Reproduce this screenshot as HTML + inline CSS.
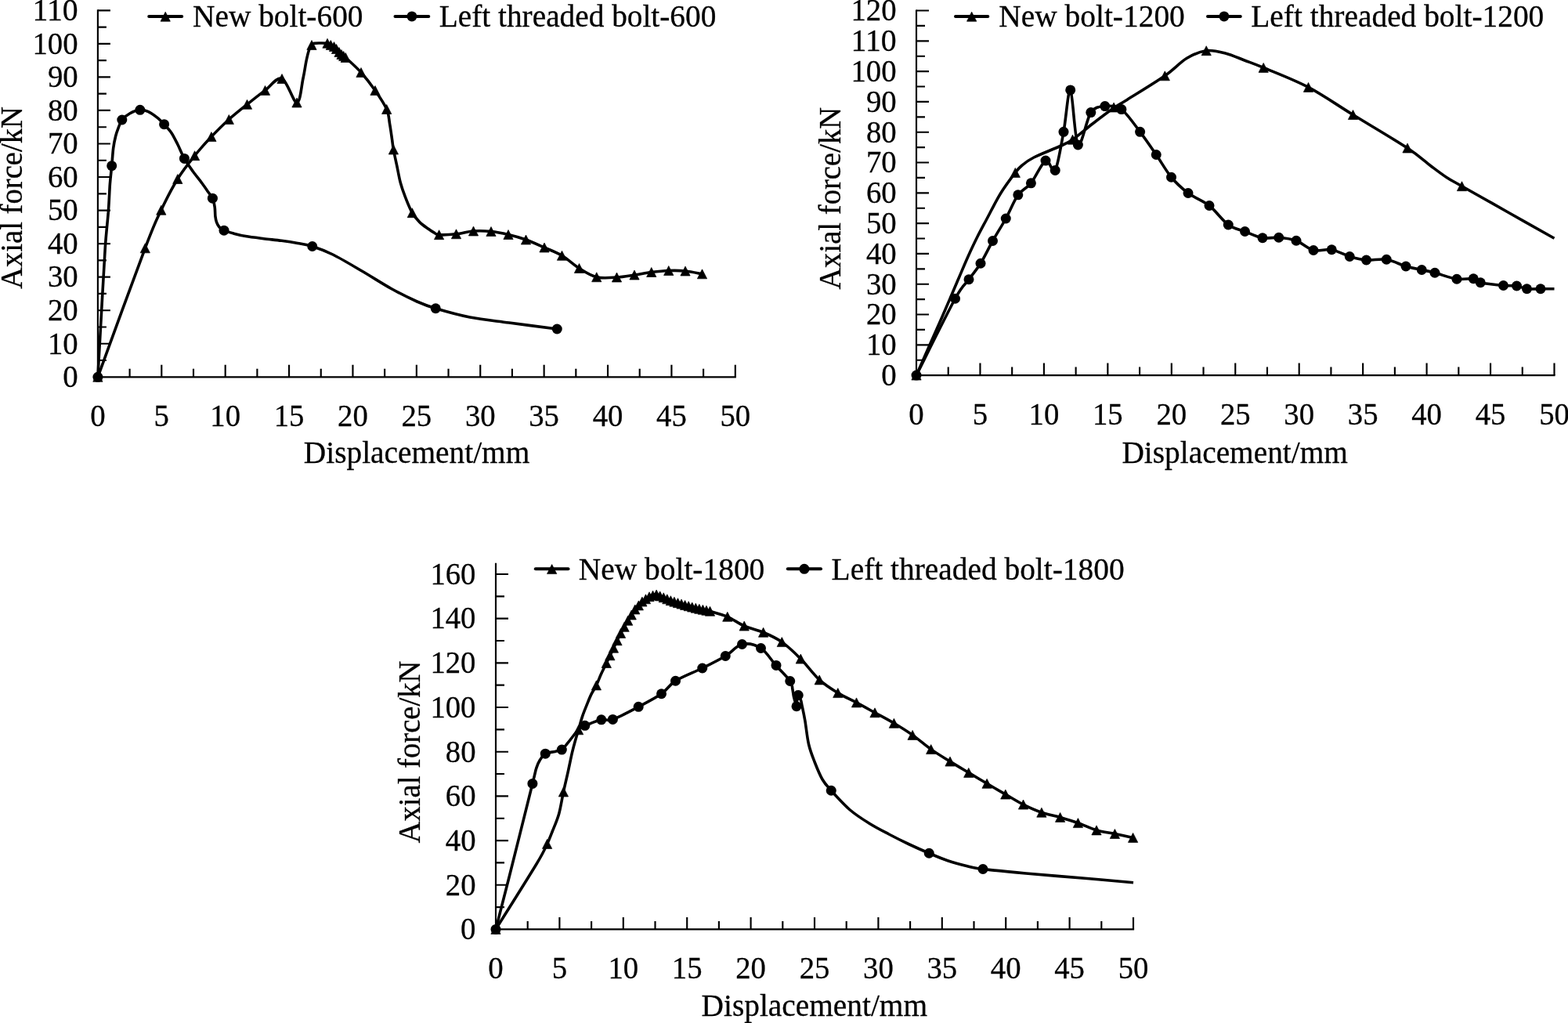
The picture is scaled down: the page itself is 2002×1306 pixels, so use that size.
<!DOCTYPE html><html><head><meta charset="utf-8"><title>Axial force - displacement curves</title>
<style>html,body{margin:0;padding:0;background:#fff}svg{display:block}text{font-family:'Liberation Serif', serif;fill:#000;stroke:#000;stroke-width:0.3px}</style></head><body>
<svg width="2002" height="1306" viewBox="0 0 2002 1306">
<rect width="2002" height="1306" fill="#fff"/>
<path d="M124.90 12.23 V482.38" stroke="#000" stroke-width="2.15" fill="none"/>
<path d="M123.83 481.30 H939.88" stroke="#000" stroke-width="2.15" fill="none"/>
<path d="M124.90 460.03 H135.90 M124.90 438.75 H140.90 M124.90 417.48 H135.90 M124.90 396.21 H140.90 M124.90 374.94 H135.90 M124.90 353.66 H140.90 M124.90 332.39 H135.90 M124.90 311.12 H140.90 M124.90 289.85 H135.90 M124.90 268.57 H140.90 M124.90 247.30 H135.90 M124.90 226.03 H140.90 M124.90 204.75 H135.90 M124.90 183.48 H140.90 M124.90 162.21 H135.90 M124.90 140.94 H140.90 M124.90 119.66 H135.90 M124.90 98.39 H140.90 M124.90 77.12 H135.90 M124.90 55.85 H140.90 M124.90 34.57 H135.90 M124.90 13.30 H140.90 M165.59 481.30 V470.80 M206.29 481.30 V465.80 M246.99 481.30 V470.80 M287.68 481.30 V465.80 M328.38 481.30 V470.80 M369.07 481.30 V465.80 M409.76 481.30 V470.80 M450.46 481.30 V465.80 M491.15 481.30 V470.80 M531.85 481.30 V465.80 M572.54 481.30 V470.80 M613.24 481.30 V465.80 M653.93 481.30 V470.80 M694.63 481.30 V465.80 M735.32 481.30 V470.80 M776.02 481.30 V465.80 M816.71 481.30 V470.80 M857.41 481.30 V465.80 M898.10 481.30 V470.80 M938.80 481.30 V465.80 " stroke="#000" stroke-width="2.15" fill="none"/>
<text x="99.60" y="494.10" text-anchor="end" font-size="41" textLength="19.4" lengthAdjust="spacingAndGlyphs">0</text>
<text x="99.60" y="451.55" text-anchor="end" font-size="41" textLength="38.7" lengthAdjust="spacingAndGlyphs">10</text>
<text x="99.60" y="409.01" text-anchor="end" font-size="41" textLength="38.7" lengthAdjust="spacingAndGlyphs">20</text>
<text x="99.60" y="366.46" text-anchor="end" font-size="41" textLength="38.7" lengthAdjust="spacingAndGlyphs">30</text>
<text x="99.60" y="323.92" text-anchor="end" font-size="41" textLength="38.7" lengthAdjust="spacingAndGlyphs">40</text>
<text x="99.60" y="281.37" text-anchor="end" font-size="41" textLength="38.7" lengthAdjust="spacingAndGlyphs">50</text>
<text x="99.60" y="238.83" text-anchor="end" font-size="41" textLength="38.7" lengthAdjust="spacingAndGlyphs">60</text>
<text x="99.60" y="196.28" text-anchor="end" font-size="41" textLength="38.7" lengthAdjust="spacingAndGlyphs">70</text>
<text x="99.60" y="153.74" text-anchor="end" font-size="41" textLength="38.7" lengthAdjust="spacingAndGlyphs">80</text>
<text x="99.60" y="111.19" text-anchor="end" font-size="41" textLength="38.7" lengthAdjust="spacingAndGlyphs">90</text>
<text x="99.60" y="68.65" text-anchor="end" font-size="41" textLength="58.1" lengthAdjust="spacingAndGlyphs">100</text>
<text x="99.60" y="26.10" text-anchor="end" font-size="41" textLength="58.1" lengthAdjust="spacingAndGlyphs">110</text>
<text x="124.90" y="544.30" text-anchor="middle" font-size="41" textLength="19.4" lengthAdjust="spacingAndGlyphs">0</text>
<text x="206.29" y="544.30" text-anchor="middle" font-size="41" textLength="19.4" lengthAdjust="spacingAndGlyphs">5</text>
<text x="287.68" y="544.30" text-anchor="middle" font-size="41" textLength="38.7" lengthAdjust="spacingAndGlyphs">10</text>
<text x="369.07" y="544.30" text-anchor="middle" font-size="41" textLength="38.7" lengthAdjust="spacingAndGlyphs">15</text>
<text x="450.46" y="544.30" text-anchor="middle" font-size="41" textLength="38.7" lengthAdjust="spacingAndGlyphs">20</text>
<text x="531.85" y="544.30" text-anchor="middle" font-size="41" textLength="38.7" lengthAdjust="spacingAndGlyphs">25</text>
<text x="613.24" y="544.30" text-anchor="middle" font-size="41" textLength="38.7" lengthAdjust="spacingAndGlyphs">30</text>
<text x="694.63" y="544.30" text-anchor="middle" font-size="41" textLength="38.7" lengthAdjust="spacingAndGlyphs">35</text>
<text x="776.02" y="544.30" text-anchor="middle" font-size="41" textLength="38.7" lengthAdjust="spacingAndGlyphs">40</text>
<text x="857.41" y="544.30" text-anchor="middle" font-size="41" textLength="38.7" lengthAdjust="spacingAndGlyphs">45</text>
<text x="938.80" y="544.30" text-anchor="middle" font-size="41" textLength="38.7" lengthAdjust="spacingAndGlyphs">50</text>
<text x="28.00" y="252.50" text-anchor="middle" font-size="40" textLength="233.0" lengthAdjust="spacingAndGlyphs" transform="rotate(-90 28.00 252.50)">Axial force/kN</text>
<text x="532.10" y="591.30" text-anchor="middle" font-size="40" textLength="288.5" lengthAdjust="spacingAndGlyphs">Displacement/mm</text>
<path d="M190.20 20.90 H232.20" stroke="#000" stroke-width="4.00" stroke-linecap="round" fill="none"/>
<path d="M211.20 15.20 L217.35 27.20 L205.05 27.20 Z" fill="#000" stroke="#000" stroke-width="0.7" stroke-linejoin="round"/>
<text x="246.00" y="33.90" text-anchor="start" font-size="40" textLength="217.5" lengthAdjust="spacingAndGlyphs">New bolt-600</text>
<path d="M504.50 20.90 H547.30" stroke="#000" stroke-width="4.00" stroke-linecap="round" fill="none"/>
<circle cx="525.90" cy="20.90" r="6.50" fill="#000"/>
<text x="560.80" y="33.90" text-anchor="start" font-size="40" textLength="353.5" lengthAdjust="spacingAndGlyphs">Left threaded bolt-600</text>
<path d="M124.90 481.30 C134.97 453.88 171.82 352.32 185.30 316.80 C198.78 281.28 198.88 282.92 205.80 268.20 C212.72 253.48 219.67 240.08 226.80 228.50 C233.93 216.92 241.42 207.68 248.60 198.70 C255.78 189.72 262.62 182.30 269.90 174.60 C277.18 166.90 284.70 159.38 292.30 152.50 C299.90 145.62 307.80 139.48 315.50 133.30 C323.20 127.12 331.08 120.87 338.50 115.40 C345.92 109.93 353.25 97.90 360.00 100.50 C366.75 103.10 374.50 131.08 379.00 131.00 C383.50 130.92 385.00 108.83 387.00 100.00 C389.00 91.17 389.75 84.00 391.00 78.00 C392.25 72.00 393.33 67.42 394.50 64.00 C395.67 60.58 397.00 58.93 398.00 57.50 C399.00 56.07 398.83 55.82 400.50 55.40 C402.17 54.98 405.08 55.02 408.00 55.00 C410.92 54.98 415.62 54.88 418.00 55.30 C420.38 55.72 420.88 56.80 422.30 57.50 C423.72 58.20 425.30 58.67 426.50 59.50 C427.70 60.33 428.42 61.33 429.50 62.50 C430.58 63.67 431.92 65.33 433.00 66.50 C434.08 67.67 435.05 68.67 436.00 69.50 C436.95 70.33 437.82 70.83 438.70 71.50 C439.58 72.17 437.58 70.00 441.30 73.50 C445.02 77.00 454.72 85.50 461.00 92.50 C467.28 99.50 473.55 107.67 479.00 115.50 C484.45 123.33 490.60 132.37 493.70 139.50 C496.80 146.63 496.45 151.85 497.60 158.30 C498.75 164.75 499.80 172.75 500.60 178.20 C501.40 183.65 501.37 185.38 502.40 191.00 C503.43 196.62 505.32 204.85 506.80 211.90 C508.28 218.95 509.52 226.67 511.30 233.30 C513.08 239.93 515.00 245.30 517.50 251.70 C520.00 258.10 523.25 266.38 526.30 271.70 C529.35 277.02 532.35 280.17 535.80 283.60 C539.25 287.03 543.97 290.08 547.00 292.30 C550.03 294.52 551.73 295.67 554.00 296.90 C556.27 298.13 555.85 299.39 560.60 299.70 C565.35 300.01 575.18 299.53 582.50 298.75 C589.82 297.97 597.08 295.54 604.50 295.00 C611.92 294.46 619.58 294.75 627.00 295.50 C634.42 296.25 641.58 297.75 649.00 299.50 C656.42 301.25 663.83 303.25 671.50 306.00 C679.17 308.75 687.33 312.62 695.00 316.00 C702.67 319.38 710.08 321.88 717.50 326.30 C724.92 330.72 732.12 337.93 739.50 342.50 C746.88 347.07 753.75 351.83 761.75 353.75 C769.75 355.67 779.46 354.46 787.50 354.00 C795.54 353.54 802.62 352.08 810.00 351.00 C817.38 349.92 824.46 348.42 831.75 347.50 C839.04 346.58 846.54 345.75 853.75 345.50 C860.96 345.25 867.88 345.28 875.00 346.00 C882.12 346.72 892.92 349.17 896.50 349.80" fill="none" stroke="#000" stroke-width="3.60" stroke-linejoin="round" stroke-linecap="butt"/>
<path d="M124.90 481.30 C125.70 467.08 128.13 423.55 129.70 396.00 C131.27 368.45 132.85 337.12 134.30 316.00 C135.75 294.88 137.38 282.82 138.40 269.30 C139.42 255.78 139.68 244.50 140.40 234.90 C141.12 225.30 141.98 219.37 142.70 211.70 C143.42 204.03 143.88 195.18 144.70 188.90 C145.52 182.62 146.55 178.22 147.60 174.00 C148.65 169.78 149.63 167.10 151.00 163.60 C152.37 160.10 153.32 156.15 155.80 153.00 C158.28 149.85 162.07 146.82 165.90 144.70 C169.73 142.58 174.97 140.68 178.80 140.30 C182.63 139.92 185.30 140.80 188.90 142.40 C192.50 144.00 196.95 147.18 200.40 149.90 C203.85 152.62 206.53 155.45 209.60 158.70 C212.67 161.95 215.93 165.13 218.80 169.40 C221.67 173.67 224.03 178.80 226.80 184.30 C229.57 189.80 232.15 196.65 235.40 202.40 C238.65 208.15 242.57 213.58 246.30 218.80 C250.03 224.02 254.53 229.30 257.80 233.70 C261.07 238.10 263.63 241.95 265.90 245.20 C268.17 248.45 270.02 249.98 271.40 253.20 C272.78 256.42 273.62 260.70 274.20 264.50 C274.78 268.30 274.52 272.82 274.90 276.00 C275.28 279.18 275.67 281.32 276.50 283.60 C277.33 285.88 278.32 287.93 279.90 289.70 C281.48 291.47 282.93 292.80 286.00 294.20 C289.07 295.60 293.70 296.87 298.30 298.10 C302.90 299.33 307.22 300.50 313.60 301.60 C319.98 302.70 328.95 303.75 336.60 304.70 C344.25 305.65 352.27 306.33 359.50 307.30 C366.73 308.27 373.46 309.30 380.00 310.50 C386.54 311.70 391.25 312.08 398.75 314.50 C406.25 316.92 414.38 319.71 425.00 325.00 C435.62 330.29 450.00 338.96 462.50 346.25 C475.00 353.54 488.33 362.29 500.00 368.75 C511.67 375.21 523.12 380.83 532.50 385.00 C541.88 389.17 545.00 390.42 556.25 393.75 C567.50 397.08 584.38 401.96 600.00 405.00 C615.62 408.04 631.46 409.50 650.00 412.00 C668.54 414.50 701.04 418.67 711.25 420.00" fill="none" stroke="#000" stroke-width="3.60" stroke-linejoin="round" stroke-linecap="butt"/>
<path d="M124.90 475.30 L131.05 487.30 L118.75 487.30 Z M185.30 310.80 L191.45 322.80 L179.15 322.80 Z M205.80 262.20 L211.95 274.20 L199.65 274.20 Z M226.80 222.50 L232.95 234.50 L220.65 234.50 Z M248.60 192.70 L254.75 204.70 L242.45 204.70 Z M269.90 168.60 L276.05 180.60 L263.75 180.60 Z M292.30 146.50 L298.45 158.50 L286.15 158.50 Z M315.50 127.30 L321.65 139.30 L309.35 139.30 Z M338.50 109.40 L344.65 121.40 L332.35 121.40 Z M360.00 94.50 L366.15 106.50 L353.85 106.50 Z M379.00 125.00 L385.15 137.00 L372.85 137.00 Z M398.00 51.50 L404.15 63.50 L391.85 63.50 Z M418.00 49.30 L424.15 61.30 L411.85 61.30 Z M422.30 51.50 L428.45 63.50 L416.15 63.50 Z M426.50 53.50 L432.65 65.50 L420.35 65.50 Z M429.50 56.50 L435.65 68.50 L423.35 68.50 Z M433.00 60.50 L439.15 72.50 L426.85 72.50 Z M436.00 63.50 L442.15 75.50 L429.85 75.50 Z M438.70 65.50 L444.85 77.50 L432.55 77.50 Z M441.30 67.50 L447.45 79.50 L435.15 79.50 Z M461.00 86.50 L467.15 98.50 L454.85 98.50 Z M479.00 109.50 L485.15 121.50 L472.85 121.50 Z M493.70 133.50 L499.85 145.50 L487.55 145.50 Z M502.40 185.00 L508.55 197.00 L496.25 197.00 Z M526.30 265.70 L532.45 277.70 L520.15 277.70 Z M560.60 293.70 L566.75 305.70 L554.45 305.70 Z M582.50 292.75 L588.65 304.75 L576.35 304.75 Z M604.50 289.00 L610.65 301.00 L598.35 301.00 Z M627.00 289.50 L633.15 301.50 L620.85 301.50 Z M649.00 293.50 L655.15 305.50 L642.85 305.50 Z M671.50 300.00 L677.65 312.00 L665.35 312.00 Z M695.00 310.00 L701.15 322.00 L688.85 322.00 Z M717.50 320.30 L723.65 332.30 L711.35 332.30 Z M739.50 336.50 L745.65 348.50 L733.35 348.50 Z M761.75 347.75 L767.90 359.75 L755.60 359.75 Z M787.50 348.00 L793.65 360.00 L781.35 360.00 Z M810.00 345.00 L816.15 357.00 L803.85 357.00 Z M831.75 341.50 L837.90 353.50 L825.60 353.50 Z M853.75 339.50 L859.90 351.50 L847.60 351.50 Z M875.00 340.00 L881.15 352.00 L868.85 352.00 Z M896.50 343.80 L902.65 355.80 L890.35 355.80 Z" fill="#000" stroke="#000" stroke-width="0.7" stroke-linejoin="round"/>
<circle cx="124.90" cy="481.30" r="6.50" fill="#000"/>
<circle cx="142.70" cy="211.70" r="6.50" fill="#000"/>
<circle cx="155.80" cy="153.00" r="6.50" fill="#000"/>
<circle cx="178.80" cy="140.30" r="6.50" fill="#000"/>
<circle cx="209.60" cy="158.70" r="6.50" fill="#000"/>
<circle cx="235.40" cy="202.40" r="6.50" fill="#000"/>
<circle cx="271.40" cy="253.20" r="6.50" fill="#000"/>
<circle cx="286.00" cy="294.20" r="6.50" fill="#000"/>
<circle cx="398.75" cy="314.50" r="6.50" fill="#000"/>
<circle cx="556.25" cy="393.75" r="6.50" fill="#000"/>
<circle cx="711.25" cy="420.00" r="6.50" fill="#000"/>
<path d="M1170.00 12.43 V480.18" stroke="#000" stroke-width="2.15" fill="none"/>
<path d="M1168.92 479.10 H1985.58" stroke="#000" stroke-width="2.15" fill="none"/>
<path d="M1170.00 459.70 H1181.00 M1170.00 440.30 H1186.00 M1170.00 420.90 H1181.00 M1170.00 401.50 H1186.00 M1170.00 382.10 H1181.00 M1170.00 362.70 H1186.00 M1170.00 343.30 H1181.00 M1170.00 323.90 H1186.00 M1170.00 304.50 H1181.00 M1170.00 285.10 H1186.00 M1170.00 265.70 H1181.00 M1170.00 246.30 H1186.00 M1170.00 226.90 H1181.00 M1170.00 207.50 H1186.00 M1170.00 188.10 H1181.00 M1170.00 168.70 H1186.00 M1170.00 149.30 H1181.00 M1170.00 129.90 H1186.00 M1170.00 110.50 H1181.00 M1170.00 91.10 H1186.00 M1170.00 71.70 H1181.00 M1170.00 52.30 H1186.00 M1170.00 32.90 H1181.00 M1170.00 13.50 H1186.00 M1210.72 479.10 V468.60 M1251.45 479.10 V463.60 M1292.17 479.10 V468.60 M1332.90 479.10 V463.60 M1373.62 479.10 V468.60 M1414.35 479.10 V463.60 M1455.08 479.10 V468.60 M1495.80 479.10 V463.60 M1536.53 479.10 V468.60 M1577.25 479.10 V463.60 M1617.97 479.10 V468.60 M1658.70 479.10 V463.60 M1699.42 479.10 V468.60 M1740.15 479.10 V463.60 M1780.88 479.10 V468.60 M1821.60 479.10 V463.60 M1862.32 479.10 V468.60 M1903.05 479.10 V463.60 M1943.78 479.10 V468.60 M1984.50 479.10 V463.60 " stroke="#000" stroke-width="2.15" fill="none"/>
<text x="1144.60" y="491.90" text-anchor="end" font-size="41" textLength="19.4" lengthAdjust="spacingAndGlyphs">0</text>
<text x="1144.60" y="453.10" text-anchor="end" font-size="41" textLength="38.7" lengthAdjust="spacingAndGlyphs">10</text>
<text x="1144.60" y="414.30" text-anchor="end" font-size="41" textLength="38.7" lengthAdjust="spacingAndGlyphs">20</text>
<text x="1144.60" y="375.50" text-anchor="end" font-size="41" textLength="38.7" lengthAdjust="spacingAndGlyphs">30</text>
<text x="1144.60" y="336.70" text-anchor="end" font-size="41" textLength="38.7" lengthAdjust="spacingAndGlyphs">40</text>
<text x="1144.60" y="297.90" text-anchor="end" font-size="41" textLength="38.7" lengthAdjust="spacingAndGlyphs">50</text>
<text x="1144.60" y="259.10" text-anchor="end" font-size="41" textLength="38.7" lengthAdjust="spacingAndGlyphs">60</text>
<text x="1144.60" y="220.30" text-anchor="end" font-size="41" textLength="38.7" lengthAdjust="spacingAndGlyphs">70</text>
<text x="1144.60" y="181.50" text-anchor="end" font-size="41" textLength="38.7" lengthAdjust="spacingAndGlyphs">80</text>
<text x="1144.60" y="142.70" text-anchor="end" font-size="41" textLength="38.7" lengthAdjust="spacingAndGlyphs">90</text>
<text x="1144.60" y="103.90" text-anchor="end" font-size="41" textLength="58.1" lengthAdjust="spacingAndGlyphs">100</text>
<text x="1144.60" y="65.10" text-anchor="end" font-size="41" textLength="58.1" lengthAdjust="spacingAndGlyphs">110</text>
<text x="1144.60" y="26.30" text-anchor="end" font-size="41" textLength="58.1" lengthAdjust="spacingAndGlyphs">120</text>
<text x="1170.00" y="542.30" text-anchor="middle" font-size="41" textLength="19.4" lengthAdjust="spacingAndGlyphs">0</text>
<text x="1251.45" y="542.30" text-anchor="middle" font-size="41" textLength="19.4" lengthAdjust="spacingAndGlyphs">5</text>
<text x="1332.90" y="542.30" text-anchor="middle" font-size="41" textLength="38.7" lengthAdjust="spacingAndGlyphs">10</text>
<text x="1414.35" y="542.30" text-anchor="middle" font-size="41" textLength="38.7" lengthAdjust="spacingAndGlyphs">15</text>
<text x="1495.80" y="542.30" text-anchor="middle" font-size="41" textLength="38.7" lengthAdjust="spacingAndGlyphs">20</text>
<text x="1577.25" y="542.30" text-anchor="middle" font-size="41" textLength="38.7" lengthAdjust="spacingAndGlyphs">25</text>
<text x="1658.70" y="542.30" text-anchor="middle" font-size="41" textLength="38.7" lengthAdjust="spacingAndGlyphs">30</text>
<text x="1740.15" y="542.30" text-anchor="middle" font-size="41" textLength="38.7" lengthAdjust="spacingAndGlyphs">35</text>
<text x="1821.60" y="542.30" text-anchor="middle" font-size="41" textLength="38.7" lengthAdjust="spacingAndGlyphs">40</text>
<text x="1903.05" y="542.30" text-anchor="middle" font-size="41" textLength="38.7" lengthAdjust="spacingAndGlyphs">45</text>
<text x="1984.50" y="542.30" text-anchor="middle" font-size="41" textLength="38.7" lengthAdjust="spacingAndGlyphs">50</text>
<text x="1073.30" y="253.30" text-anchor="middle" font-size="40" textLength="233.0" lengthAdjust="spacingAndGlyphs" transform="rotate(-90 1073.30 253.30)">Axial force/kN</text>
<text x="1576.70" y="591.30" text-anchor="middle" font-size="40" textLength="288.5" lengthAdjust="spacingAndGlyphs">Displacement/mm</text>
<path d="M1220.00 20.90 H1261.30" stroke="#000" stroke-width="4.00" stroke-linecap="round" fill="none"/>
<path d="M1240.65 15.20 L1246.80 27.20 L1234.50 27.20 Z" fill="#000" stroke="#000" stroke-width="0.7" stroke-linejoin="round"/>
<text x="1275.30" y="33.90" text-anchor="start" font-size="40" textLength="237.5" lengthAdjust="spacingAndGlyphs">New bolt-1200</text>
<path d="M1542.00 20.90 H1583.80" stroke="#000" stroke-width="4.00" stroke-linecap="round" fill="none"/>
<circle cx="1562.90" cy="20.90" r="6.50" fill="#000"/>
<text x="1597.30" y="33.90" text-anchor="start" font-size="40" textLength="374.0" lengthAdjust="spacingAndGlyphs">Left threaded bolt-1200</text>
<path d="M1170.00 479.10 C1172.83 472.67 1181.78 452.30 1187.00 440.50 C1192.22 428.70 1196.88 418.38 1201.30 408.30 C1205.72 398.22 1209.58 389.13 1213.50 380.00 C1217.42 370.87 1221.05 362.25 1224.80 353.50 C1228.55 344.75 1232.25 335.83 1236.00 327.50 C1239.75 319.17 1243.35 311.42 1247.30 303.50 C1251.25 295.58 1254.67 289.42 1259.70 280.00 C1264.73 270.58 1271.40 256.93 1277.50 247.00 C1283.60 237.07 1291.72 226.40 1296.30 220.40 C1300.88 214.40 1301.05 214.23 1305.00 211.00 C1308.95 207.77 1312.08 205.00 1320.00 201.00 C1327.92 197.00 1344.25 190.80 1352.50 187.00 C1360.75 183.20 1362.42 183.03 1369.50 178.20 C1376.58 173.37 1386.23 164.73 1395.00 158.00 C1403.77 151.27 1414.72 142.93 1422.10 137.80 C1429.48 132.67 1428.43 134.03 1439.30 127.20 C1450.17 120.37 1474.68 105.58 1487.30 96.80 C1499.92 88.02 1506.18 79.85 1515.00 74.50 C1523.82 69.15 1531.95 65.78 1540.20 64.70 C1548.45 63.62 1556.28 65.92 1564.50 68.00 C1572.72 70.08 1581.38 74.13 1589.50 77.20 C1597.62 80.27 1599.70 80.70 1613.20 86.40 C1626.70 92.10 1651.45 101.38 1670.50 111.40 C1689.55 121.42 1706.42 133.57 1727.50 146.50 C1748.58 159.43 1780.42 178.08 1797.00 189.00 C1813.58 199.92 1818.67 205.75 1827.00 212.00 C1835.33 218.25 1840.42 222.22 1847.00 226.50 C1853.58 230.78 1853.50 230.33 1866.50 237.70 C1879.50 245.07 1905.33 259.60 1925.00 270.70 C1944.67 281.80 1974.58 298.70 1984.50 304.30" fill="none" stroke="#000" stroke-width="3.60" stroke-linejoin="round" stroke-linecap="butt"/>
<path d="M1170.00 479.10 C1177.62 464.05 1209.19 400.07 1219.50 381.25 C1229.81 362.43 1232.00 363.67 1237.00 356.75 C1242.00 349.83 1247.31 343.83 1252.00 336.25 C1256.69 328.67 1262.54 316.31 1267.50 307.50 C1272.46 298.69 1279.28 288.03 1284.25 279.00 C1289.22 269.97 1294.85 255.75 1299.80 248.80 C1304.75 241.85 1310.98 240.52 1316.40 233.80 C1321.82 227.08 1330.26 207.62 1335.00 205.10 C1339.74 202.58 1343.66 223.06 1347.20 217.40 C1350.74 211.74 1355.00 184.07 1358.00 168.30 C1361.00 152.53 1363.87 112.33 1366.70 114.90 C1369.53 117.47 1372.38 180.58 1376.40 185.00 C1380.42 189.42 1387.51 151.20 1392.80 143.60 C1398.09 136.00 1404.78 136.22 1410.80 135.60 C1416.82 134.98 1425.01 134.57 1431.90 139.60 C1438.79 144.63 1448.78 159.39 1455.60 168.30 C1462.42 177.21 1470.11 188.58 1476.25 197.50 C1482.39 206.42 1489.23 218.71 1495.50 226.25 C1501.77 233.79 1509.54 240.92 1517.00 246.50 C1524.46 252.08 1536.12 256.27 1544.00 262.50 C1551.88 268.73 1561.25 281.92 1568.25 287.00 C1575.25 292.08 1582.77 292.92 1589.50 295.50 C1596.23 298.08 1605.35 302.56 1612.00 303.75 C1618.65 304.94 1626.13 302.71 1632.75 303.25 C1639.37 303.79 1648.19 304.75 1655.00 307.25 C1661.81 309.75 1670.04 317.73 1677.00 319.50 C1683.96 321.27 1693.13 317.52 1700.25 318.75 C1707.37 319.98 1716.44 325.46 1723.25 327.50 C1730.06 329.54 1737.27 331.42 1744.50 332.00 C1751.73 332.58 1762.48 330.02 1770.25 331.25 C1778.02 332.48 1788.08 337.96 1795.00 340.00 C1801.92 342.04 1809.56 343.23 1815.25 344.50 C1820.94 345.77 1825.12 346.44 1832.00 348.25 C1838.88 350.06 1852.42 355.10 1860.00 356.25 C1867.58 357.40 1876.60 355.06 1881.25 355.75 C1885.90 356.44 1884.37 359.40 1890.25 360.75 C1896.13 362.10 1912.38 363.85 1919.50 364.50 C1926.62 365.15 1931.88 364.35 1936.50 365.00 C1941.12 365.65 1944.81 368.17 1949.50 368.75 C1954.19 369.33 1961.62 368.75 1967.00 368.75 C1972.38 368.75 1981.81 368.75 1984.50 368.75" fill="none" stroke="#000" stroke-width="3.60" stroke-linejoin="round" stroke-linecap="butt"/>
<path d="M1170.00 473.10 L1176.15 485.10 L1163.85 485.10 Z M1296.30 214.40 L1302.45 226.40 L1290.15 226.40 Z M1369.50 172.20 L1375.65 184.20 L1363.35 184.20 Z M1422.10 131.00 L1428.25 143.00 L1415.95 143.00 Z M1487.30 90.80 L1493.45 102.80 L1481.15 102.80 Z M1540.20 58.70 L1546.35 70.70 L1534.05 70.70 Z M1613.20 80.40 L1619.35 92.40 L1607.05 92.40 Z M1670.50 105.40 L1676.65 117.40 L1664.35 117.40 Z M1727.50 140.50 L1733.65 152.50 L1721.35 152.50 Z M1797.00 183.00 L1803.15 195.00 L1790.85 195.00 Z M1866.50 231.70 L1872.65 243.70 L1860.35 243.70 Z" fill="#000" stroke="#000" stroke-width="0.7" stroke-linejoin="round"/>
<circle cx="1170.00" cy="479.10" r="6.50" fill="#000"/>
<circle cx="1219.50" cy="381.25" r="6.50" fill="#000"/>
<circle cx="1237.00" cy="356.75" r="6.50" fill="#000"/>
<circle cx="1252.00" cy="336.25" r="6.50" fill="#000"/>
<circle cx="1267.50" cy="307.50" r="6.50" fill="#000"/>
<circle cx="1284.25" cy="279.00" r="6.50" fill="#000"/>
<circle cx="1299.80" cy="248.80" r="6.50" fill="#000"/>
<circle cx="1316.40" cy="233.80" r="6.50" fill="#000"/>
<circle cx="1335.00" cy="205.10" r="6.50" fill="#000"/>
<circle cx="1347.20" cy="217.40" r="6.50" fill="#000"/>
<circle cx="1358.00" cy="168.30" r="6.50" fill="#000"/>
<circle cx="1366.70" cy="114.90" r="6.50" fill="#000"/>
<circle cx="1376.40" cy="185.00" r="6.50" fill="#000"/>
<circle cx="1392.80" cy="143.60" r="6.50" fill="#000"/>
<circle cx="1410.80" cy="135.60" r="6.50" fill="#000"/>
<circle cx="1431.90" cy="139.60" r="6.50" fill="#000"/>
<circle cx="1455.60" cy="168.30" r="6.50" fill="#000"/>
<circle cx="1476.25" cy="197.50" r="6.50" fill="#000"/>
<circle cx="1495.50" cy="226.25" r="6.50" fill="#000"/>
<circle cx="1517.00" cy="246.50" r="6.50" fill="#000"/>
<circle cx="1544.00" cy="262.50" r="6.50" fill="#000"/>
<circle cx="1568.25" cy="287.00" r="6.50" fill="#000"/>
<circle cx="1589.50" cy="295.50" r="6.50" fill="#000"/>
<circle cx="1612.00" cy="303.75" r="6.50" fill="#000"/>
<circle cx="1632.75" cy="303.25" r="6.50" fill="#000"/>
<circle cx="1655.00" cy="307.25" r="6.50" fill="#000"/>
<circle cx="1677.00" cy="319.50" r="6.50" fill="#000"/>
<circle cx="1700.25" cy="318.75" r="6.50" fill="#000"/>
<circle cx="1723.25" cy="327.50" r="6.50" fill="#000"/>
<circle cx="1744.50" cy="332.00" r="6.50" fill="#000"/>
<circle cx="1770.25" cy="331.25" r="6.50" fill="#000"/>
<circle cx="1795.00" cy="340.00" r="6.50" fill="#000"/>
<circle cx="1815.25" cy="344.50" r="6.50" fill="#000"/>
<circle cx="1832.00" cy="348.25" r="6.50" fill="#000"/>
<circle cx="1860.00" cy="356.25" r="6.50" fill="#000"/>
<circle cx="1881.25" cy="355.75" r="6.50" fill="#000"/>
<circle cx="1890.25" cy="360.75" r="6.50" fill="#000"/>
<circle cx="1919.50" cy="364.50" r="6.50" fill="#000"/>
<circle cx="1936.50" cy="365.00" r="6.50" fill="#000"/>
<circle cx="1949.50" cy="368.75" r="6.50" fill="#000"/>
<circle cx="1967.00" cy="368.75" r="6.50" fill="#000"/>
<path d="M633.00 718.80 V1187.48" stroke="#000" stroke-width="2.15" fill="none"/>
<path d="M631.92 1186.40 H1448.08" stroke="#000" stroke-width="2.15" fill="none"/>
<path d="M633.00 1158.06 H644.00 M633.00 1129.73 H649.00 M633.00 1101.39 H644.00 M633.00 1073.05 H649.00 M633.00 1044.71 H644.00 M633.00 1016.38 H649.00 M633.00 988.04 H644.00 M633.00 959.70 H649.00 M633.00 931.36 H644.00 M633.00 903.03 H649.00 M633.00 874.69 H644.00 M633.00 846.35 H649.00 M633.00 818.01 H644.00 M633.00 789.67 H649.00 M633.00 761.34 H644.00 M633.00 733.00 H649.00 M673.70 1186.40 V1175.90 M714.40 1186.40 V1170.90 M755.10 1186.40 V1175.90 M795.80 1186.40 V1170.90 M836.50 1186.40 V1175.90 M877.20 1186.40 V1170.90 M917.90 1186.40 V1175.90 M958.60 1186.40 V1170.90 M999.30 1186.40 V1175.90 M1040.00 1186.40 V1170.90 M1080.70 1186.40 V1175.90 M1121.40 1186.40 V1170.90 M1162.10 1186.40 V1175.90 M1202.80 1186.40 V1170.90 M1243.50 1186.40 V1175.90 M1284.20 1186.40 V1170.90 M1324.90 1186.40 V1175.90 M1365.60 1186.40 V1170.90 M1406.30 1186.40 V1175.90 M1447.00 1186.40 V1170.90 " stroke="#000" stroke-width="2.15" fill="none"/>
<text x="607.50" y="1199.20" text-anchor="end" font-size="41" textLength="19.4" lengthAdjust="spacingAndGlyphs">0</text>
<text x="607.50" y="1142.53" text-anchor="end" font-size="41" textLength="38.7" lengthAdjust="spacingAndGlyphs">20</text>
<text x="607.50" y="1085.85" text-anchor="end" font-size="41" textLength="38.7" lengthAdjust="spacingAndGlyphs">40</text>
<text x="607.50" y="1029.17" text-anchor="end" font-size="41" textLength="38.7" lengthAdjust="spacingAndGlyphs">60</text>
<text x="607.50" y="972.50" text-anchor="end" font-size="41" textLength="38.7" lengthAdjust="spacingAndGlyphs">80</text>
<text x="607.50" y="915.83" text-anchor="end" font-size="41" textLength="58.1" lengthAdjust="spacingAndGlyphs">100</text>
<text x="607.50" y="859.15" text-anchor="end" font-size="41" textLength="58.1" lengthAdjust="spacingAndGlyphs">120</text>
<text x="607.50" y="802.47" text-anchor="end" font-size="41" textLength="58.1" lengthAdjust="spacingAndGlyphs">140</text>
<text x="607.50" y="745.80" text-anchor="end" font-size="41" textLength="58.1" lengthAdjust="spacingAndGlyphs">160</text>
<text x="633.00" y="1249.10" text-anchor="middle" font-size="41" textLength="19.4" lengthAdjust="spacingAndGlyphs">0</text>
<text x="714.40" y="1249.10" text-anchor="middle" font-size="41" textLength="19.4" lengthAdjust="spacingAndGlyphs">5</text>
<text x="795.80" y="1249.10" text-anchor="middle" font-size="41" textLength="38.7" lengthAdjust="spacingAndGlyphs">10</text>
<text x="877.20" y="1249.10" text-anchor="middle" font-size="41" textLength="38.7" lengthAdjust="spacingAndGlyphs">15</text>
<text x="958.60" y="1249.10" text-anchor="middle" font-size="41" textLength="38.7" lengthAdjust="spacingAndGlyphs">20</text>
<text x="1040.00" y="1249.10" text-anchor="middle" font-size="41" textLength="38.7" lengthAdjust="spacingAndGlyphs">25</text>
<text x="1121.40" y="1249.10" text-anchor="middle" font-size="41" textLength="38.7" lengthAdjust="spacingAndGlyphs">30</text>
<text x="1202.80" y="1249.10" text-anchor="middle" font-size="41" textLength="38.7" lengthAdjust="spacingAndGlyphs">35</text>
<text x="1284.20" y="1249.10" text-anchor="middle" font-size="41" textLength="38.7" lengthAdjust="spacingAndGlyphs">40</text>
<text x="1365.60" y="1249.10" text-anchor="middle" font-size="41" textLength="38.7" lengthAdjust="spacingAndGlyphs">45</text>
<text x="1447.00" y="1249.10" text-anchor="middle" font-size="41" textLength="38.7" lengthAdjust="spacingAndGlyphs">50</text>
<text x="536.30" y="960.00" text-anchor="middle" font-size="40" textLength="233.0" lengthAdjust="spacingAndGlyphs" transform="rotate(-90 536.30 960.00)">Axial force/kN</text>
<text x="1039.80" y="1296.50" text-anchor="middle" font-size="40" textLength="288.5" lengthAdjust="spacingAndGlyphs">Displacement/mm</text>
<path d="M683.80 726.30 H725.50" stroke="#000" stroke-width="4.00" stroke-linecap="round" fill="none"/>
<path d="M704.65 720.60 L710.80 732.60 L698.50 732.60 Z" fill="#000" stroke="#000" stroke-width="0.7" stroke-linejoin="round"/>
<text x="738.80" y="739.90" text-anchor="start" font-size="40" textLength="237.5" lengthAdjust="spacingAndGlyphs">New bolt-1800</text>
<path d="M1005.80 726.30 H1048.00" stroke="#000" stroke-width="4.00" stroke-linecap="round" fill="none"/>
<circle cx="1026.90" cy="726.30" r="6.50" fill="#000"/>
<text x="1061.60" y="739.90" text-anchor="start" font-size="40" textLength="374.0" lengthAdjust="spacingAndGlyphs">Left threaded bolt-1800</text>
<path d="M633.00 1186.40 C641.67 1172.50 674.07 1121.17 685.00 1103.00 C695.93 1084.83 695.27 1084.23 698.60 1077.40 C701.93 1070.57 702.52 1068.32 705.00 1062.00 C707.48 1055.68 711.10 1048.00 713.50 1039.50 C715.90 1031.00 717.48 1019.85 719.40 1011.00 C721.32 1002.15 723.12 994.92 725.00 986.40 C726.88 977.88 728.98 967.18 730.70 959.90 C732.42 952.62 733.98 947.38 735.30 942.70 C736.62 938.02 737.25 936.40 738.60 931.80 C739.95 927.20 741.65 920.37 743.40 915.10 C745.15 909.83 747.18 904.98 749.10 900.20 C751.02 895.42 752.85 890.62 754.90 886.40 C756.95 882.18 759.30 879.22 761.40 874.90 C763.50 870.58 765.35 865.23 767.50 860.50 C769.65 855.77 771.63 852.08 774.30 846.50 C776.97 840.92 780.47 833.33 783.50 827.00 C786.53 820.67 789.50 814.25 792.50 808.50 C795.50 802.75 798.53 797.50 801.50 792.50 C804.47 787.50 807.33 782.50 810.30 778.50 C813.27 774.50 816.30 771.25 819.30 768.50 C822.30 765.75 825.27 763.62 828.30 762.00 C831.33 760.38 834.47 758.72 837.50 758.80 C840.53 758.88 843.47 761.22 846.50 762.50 C849.53 763.78 852.62 765.33 855.70 766.50 C858.78 767.67 861.95 768.53 865.00 769.50 C868.05 770.47 870.92 771.38 874.00 772.30 C877.08 773.22 880.38 774.17 883.50 775.00 C886.62 775.83 889.62 776.58 892.70 777.30 C895.78 778.02 899.70 778.80 902.00 779.30 C904.30 779.80 902.03 778.97 906.50 780.30 C910.97 781.63 921.52 784.17 928.80 787.30 C936.08 790.43 942.57 795.77 950.20 799.10 C957.83 802.43 966.58 803.88 974.60 807.30 C982.62 810.72 990.35 813.97 998.30 819.60 C1006.25 825.23 1014.32 833.05 1022.30 841.10 C1030.28 849.15 1038.28 860.65 1046.20 867.90 C1054.12 875.15 1061.92 879.77 1069.80 884.60 C1077.68 889.43 1085.63 892.70 1093.50 896.90 C1101.37 901.10 1109.02 905.40 1117.00 909.80 C1124.98 914.20 1133.38 918.53 1141.40 923.30 C1149.42 928.07 1157.22 932.85 1165.10 938.40 C1172.98 943.95 1180.72 950.98 1188.70 956.60 C1196.68 962.22 1204.99 967.13 1213.00 972.10 C1221.01 977.07 1228.90 981.70 1236.75 986.40 C1244.60 991.10 1252.26 995.68 1260.10 1000.30 C1267.94 1004.92 1276.07 1009.63 1283.80 1014.10 C1291.53 1018.57 1298.82 1023.25 1306.50 1027.10 C1314.18 1030.95 1322.05 1034.48 1329.90 1037.20 C1337.75 1039.92 1345.85 1041.17 1353.60 1043.40 C1361.35 1045.63 1368.67 1047.85 1376.40 1050.60 C1384.13 1053.35 1392.17 1057.58 1400.00 1059.90 C1407.83 1062.22 1415.63 1062.92 1423.40 1064.50 C1431.17 1066.08 1442.73 1068.58 1446.60 1069.40" fill="none" stroke="#000" stroke-width="3.60" stroke-linejoin="round" stroke-linecap="butt"/>
<path d="M633.00 1186.40 C635.83 1175.33 642.18 1151.00 650.00 1120.00 C657.82 1089.00 674.10 1023.63 679.90 1000.40 C685.70 977.17 683.22 985.62 684.80 980.60 C686.38 975.58 687.48 973.37 689.40 970.30 C691.32 967.23 693.05 964.02 696.30 962.20 C699.55 960.38 705.40 960.25 708.90 959.40 C712.40 958.55 714.62 958.93 717.30 957.10 C719.98 955.27 722.38 951.57 725.00 948.40 C727.62 945.23 730.52 941.17 733.00 938.10 C735.48 935.03 737.60 931.97 739.90 930.00 C742.20 928.03 742.15 928.17 746.80 926.30 C751.45 924.43 761.87 920.12 767.80 918.80 C773.73 917.48 774.50 921.15 782.40 918.40 C790.30 915.65 804.85 907.74 815.20 902.30 C825.55 896.86 836.62 891.26 844.50 885.75 C852.38 880.24 853.79 874.71 862.50 869.25 C871.21 863.79 886.12 858.29 896.75 853.00 C907.38 847.71 917.79 842.58 926.25 837.50 C934.71 832.42 939.96 824.17 947.50 822.50 C955.04 820.83 964.30 823.00 971.50 827.50 C978.70 832.00 984.48 842.52 990.70 849.50 C996.92 856.48 1005.27 864.35 1008.80 869.40 C1012.33 874.45 1011.12 876.45 1011.90 879.80 C1012.68 883.15 1012.68 885.97 1013.50 889.50 C1014.32 893.03 1016.25 899.08 1016.80 901.00" fill="none" stroke="#000" stroke-width="3.60" stroke-linejoin="round" stroke-linecap="butt"/>
<path d="M1016.80 901.00 C1017.10 898.60 1018.30 889.00 1018.60 886.60" fill="none" stroke="#000" stroke-width="3.60" stroke-linejoin="round" stroke-linecap="butt"/>
<path d="M1018.60 886.60 C1019.22 887.72 1021.38 890.85 1022.30 893.30 C1023.22 895.75 1023.18 896.90 1024.10 901.30 C1025.02 905.70 1026.40 911.58 1027.80 919.70 C1029.20 927.82 1030.47 941.20 1032.50 950.00 C1034.53 958.80 1037.08 965.00 1040.00 972.50 C1042.92 980.00 1046.46 988.88 1050.00 995.00 C1053.54 1001.12 1055.42 1002.79 1061.25 1009.25 C1067.08 1015.71 1076.88 1026.75 1085.00 1033.75 C1093.12 1040.75 1101.67 1046.04 1110.00 1051.25 C1118.33 1056.46 1126.67 1060.62 1135.00 1065.00 C1143.33 1069.38 1151.46 1073.46 1160.00 1077.50 C1168.54 1081.54 1177.92 1085.71 1186.25 1089.25 C1194.58 1092.79 1201.88 1096.00 1210.00 1098.75 C1218.12 1101.50 1227.50 1103.96 1235.00 1105.75 C1242.50 1107.54 1242.50 1107.96 1255.00 1109.50 C1267.50 1111.04 1288.33 1113.04 1310.00 1115.00 C1331.67 1116.96 1362.17 1119.29 1385.00 1121.25 C1407.83 1123.21 1436.67 1125.83 1447.00 1126.75" fill="none" stroke="#000" stroke-width="3.60" stroke-linejoin="round" stroke-linecap="butt"/>
<path d="M633.00 1180.40 L639.15 1192.40 L626.85 1192.40 Z M698.60 1071.40 L704.75 1083.40 L692.45 1083.40 Z M719.40 1005.00 L725.55 1017.00 L713.25 1017.00 Z M738.60 925.80 L744.75 937.80 L732.45 937.80 Z M761.40 868.90 L767.55 880.90 L755.25 880.90 Z M774.30 840.50 L780.45 852.50 L768.15 852.50 Z M778.86 830.84 L785.01 842.84 L772.71 842.84 Z M783.42 821.18 L789.57 833.18 L777.27 833.18 Z M787.98 811.80 L794.13 823.80 L781.83 823.80 Z M792.53 802.44 L798.68 814.44 L786.38 814.44 Z M797.09 794.33 L803.24 806.33 L790.94 806.33 Z M801.65 786.26 L807.80 798.26 L795.50 798.26 Z M806.21 779.01 L812.36 791.01 L800.06 791.01 Z M810.77 771.98 L816.92 783.98 L804.62 783.98 Z M815.33 766.91 L821.48 778.91 L809.18 778.91 Z M819.89 762.08 L826.04 774.08 L813.74 774.08 Z M824.44 758.78 L830.59 770.78 L818.29 770.78 Z M829.00 755.76 L835.15 767.76 L822.85 767.76 Z M833.56 754.17 L839.71 766.17 L827.41 766.17 Z M838.12 753.06 L844.27 765.06 L831.97 765.06 Z M842.68 754.93 L848.83 766.93 L836.53 766.93 Z M847.24 756.82 L853.39 768.82 L841.09 768.82 Z M851.80 758.80 L857.95 770.80 L845.65 770.80 Z M856.36 760.71 L862.51 772.71 L850.21 772.71 Z M860.91 762.18 L867.06 774.18 L854.76 774.18 Z M865.47 763.65 L871.62 775.65 L859.32 775.65 Z M870.03 765.07 L876.18 777.07 L863.88 777.07 Z M874.59 766.47 L880.74 778.47 L868.44 778.47 Z M879.15 767.76 L885.30 779.76 L873.00 779.76 Z M883.71 769.05 L889.86 781.05 L877.56 781.05 Z M888.27 770.19 L894.42 782.19 L882.12 782.19 Z M892.82 771.33 L898.97 783.33 L886.67 783.33 Z M897.38 772.31 L903.53 784.31 L891.23 784.31 Z M901.94 773.29 L908.09 785.29 L895.79 785.29 Z M906.50 774.30 L912.65 786.30 L900.35 786.30 Z M928.80 781.30 L934.95 793.30 L922.65 793.30 Z M950.20 793.10 L956.35 805.10 L944.05 805.10 Z M974.60 801.30 L980.75 813.30 L968.45 813.30 Z M998.30 813.60 L1004.45 825.60 L992.15 825.60 Z M1022.30 835.10 L1028.45 847.10 L1016.15 847.10 Z M1046.20 861.90 L1052.35 873.90 L1040.05 873.90 Z M1069.80 878.60 L1075.95 890.60 L1063.65 890.60 Z M1093.50 890.90 L1099.65 902.90 L1087.35 902.90 Z M1117.00 903.80 L1123.15 915.80 L1110.85 915.80 Z M1141.40 917.30 L1147.55 929.30 L1135.25 929.30 Z M1165.10 932.40 L1171.25 944.40 L1158.95 944.40 Z M1188.70 950.60 L1194.85 962.60 L1182.55 962.60 Z M1213.00 966.10 L1219.15 978.10 L1206.85 978.10 Z M1236.75 980.40 L1242.90 992.40 L1230.60 992.40 Z M1260.10 994.30 L1266.25 1006.30 L1253.95 1006.30 Z M1283.80 1008.10 L1289.95 1020.10 L1277.65 1020.10 Z M1306.50 1021.10 L1312.65 1033.10 L1300.35 1033.10 Z M1329.90 1031.20 L1336.05 1043.20 L1323.75 1043.20 Z M1353.60 1037.40 L1359.75 1049.40 L1347.45 1049.40 Z M1376.40 1044.60 L1382.55 1056.60 L1370.25 1056.60 Z M1400.00 1053.90 L1406.15 1065.90 L1393.85 1065.90 Z M1423.40 1058.50 L1429.55 1070.50 L1417.25 1070.50 Z M1446.60 1063.40 L1452.75 1075.40 L1440.45 1075.40 Z" fill="#000" stroke="#000" stroke-width="0.7" stroke-linejoin="round"/>
<circle cx="633.00" cy="1186.40" r="6.50" fill="#000"/>
<circle cx="679.90" cy="1000.40" r="6.50" fill="#000"/>
<circle cx="696.30" cy="962.20" r="6.50" fill="#000"/>
<circle cx="717.30" cy="957.10" r="6.50" fill="#000"/>
<circle cx="746.80" cy="926.30" r="6.50" fill="#000"/>
<circle cx="767.80" cy="918.80" r="6.50" fill="#000"/>
<circle cx="782.40" cy="918.40" r="6.50" fill="#000"/>
<circle cx="815.20" cy="902.30" r="6.50" fill="#000"/>
<circle cx="844.50" cy="885.75" r="6.50" fill="#000"/>
<circle cx="862.50" cy="869.25" r="6.50" fill="#000"/>
<circle cx="896.75" cy="853.00" r="6.50" fill="#000"/>
<circle cx="926.25" cy="837.50" r="6.50" fill="#000"/>
<circle cx="947.50" cy="822.50" r="6.50" fill="#000"/>
<circle cx="971.50" cy="827.50" r="6.50" fill="#000"/>
<circle cx="991.00" cy="849.40" r="6.50" fill="#000"/>
<circle cx="1008.75" cy="869.50" r="6.50" fill="#000"/>
<circle cx="1019.25" cy="887.50" r="6.50" fill="#000"/>
<circle cx="1017.00" cy="901.75" r="6.50" fill="#000"/>
<circle cx="1061.25" cy="1009.25" r="6.50" fill="#000"/>
<circle cx="1186.25" cy="1089.25" r="6.50" fill="#000"/>
<circle cx="1255.00" cy="1109.50" r="6.50" fill="#000"/>
</svg></body></html>
